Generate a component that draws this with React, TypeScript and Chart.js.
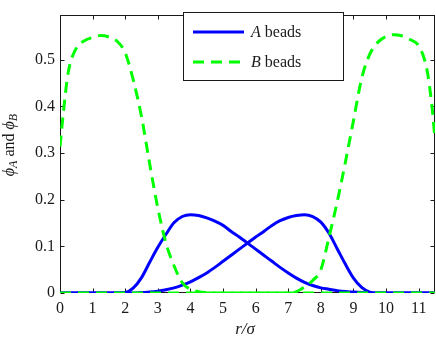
import { useEffect, useRef } from "react";
import { Chart, registerables } from "chart.js";

Chart.register(...registerables);

// radial position r/sigma
const R = [
  0, 0.1, 0.25, 0.5, 0.75, 1.0, 1.25, 1.5, 1.75, 2.0, 2.25, 2.5, 2.75, 3.0, 3.25, 3.5, 3.75,
  4.0, 4.25, 4.5, 4.75, 5.0, 5.25, 5.5, 5.75, 6.0, 6.25, 6.5, 6.75, 7.0, 7.25, 7.5, 7.75,
  8.0, 8.25, 8.5, 8.75, 9.0, 9.25, 9.5, 9.75, 10.0, 10.25, 10.5, 10.75, 11.0, 11.25, 11.4, 11.5,
];

const A_LEFT = [
  0, 0, 0, 0, 0, 0, 0, 0, 0, 0.001, 0.011, 0.033, 0.066, 0.098, 0.126, 0.151, 0.164,
  0.168, 0.166, 0.161, 0.154, 0.145, 0.132, 0.12, 0.107, 0.094, 0.081, 0.068, 0.055, 0.043, 0.032, 0.023, 0.016,
  0.011, 0.008, 0.005, 0.003, 0.002, 0.001, 0, 0, 0, 0, 0, 0, 0, 0, 0, 0,
];

const A_RIGHT = [
  0, 0, 0, 0, 0, 0, 0, 0, 0, 0, 0, 0.001, 0.002, 0.004, 0.007, 0.011, 0.017,
  0.024, 0.033, 0.043, 0.055, 0.068, 0.081, 0.094, 0.107, 0.12, 0.132, 0.145, 0.155, 0.162, 0.166, 0.168, 0.164,
  0.152, 0.128, 0.095, 0.062, 0.032, 0.012, 0.002, 0, 0, 0, 0, 0, 0, 0, 0, 0,
];

const B_LEFT = [
  0.314, 0.385, 0.472, 0.525, 0.541, 0.548, 0.552, 0.549, 0.54, 0.515, 0.456, 0.378, 0.277, 0.182, 0.107, 0.058, 0.022,
  0.008, 0.003, 0.001, 0, 0, 0, 0, 0, 0, 0, 0, 0, 0, 0, 0, 0,
  0, 0, 0, 0, 0, 0, 0, 0, 0, 0, 0, 0, 0, 0, 0, 0,
];

const B_RIGHT = [
  0, 0, 0, 0, 0, 0, 0, 0, 0, 0, 0, 0, 0, 0, 0, 0, 0,
  0, 0, 0, 0, 0, 0, 0, 0, 0, 0, 0, 0, 0, 0.003, 0.013, 0.027,
  0.05, 0.12, 0.195, 0.28, 0.37, 0.46, 0.512, 0.538, 0.55, 0.554, 0.551, 0.543, 0.53, 0.48, 0.405, 0.33,
];

const X_TICKS = [0, 1, 2, 3, 4, 5, 6, 7, 8, 9, 10, 11];
const Y_TICKS = [0, 0.1, 0.2, 0.3, 0.4, 0.5];
const X_MAX = 11.5;
const Y_MAX = 0.597;

const BLUE = "#0000ff";
const GREEN = "#00ff00";
const INK = "#1a1a1a";
const SERIF = "'Liberation Serif', 'DejaVu Serif', serif";

const pts = (ys: number[]) => R.map((r, i) => ({ x: r, y: ys[i] }));

const framePlugin = {
  id: "frame",
  beforeDatasetsDraw(chart: any) {
    const { ctx, chartArea, scales } = chart;
    const l = Math.round(chartArea.left) + 0.5;
    const r = Math.round(chartArea.right) - 0.5;
    const t = Math.round(chartArea.top) + 0.5;
    const b = Math.round(chartArea.bottom) - 0.5;
    ctx.save();
    ctx.strokeStyle = INK;
    ctx.lineWidth = 1;
    ctx.strokeRect(l, t, r - l, b - t);
    const tl = 4;
    ctx.beginPath();
    X_TICKS.forEach((v) => {
      const px = Math.round(scales.x.getPixelForValue(v)) + 0.5;
      ctx.moveTo(px, b);
      ctx.lineTo(px, b - tl);
      ctx.moveTo(px, t);
      ctx.lineTo(px, t + tl);
    });
    Y_TICKS.forEach((v) => {
      const py = Math.round(scales.y.getPixelForValue(v)) + 0.5;
      ctx.moveTo(l, py);
      ctx.lineTo(l + tl, py);
      ctx.moveTo(r, py);
      ctx.lineTo(r - tl, py);
    });
    ctx.stroke();
    ctx.restore();
  },
};

const titlePlugin = {
  id: "titles",
  afterDraw(chart: any) {
    const { ctx, chartArea } = chart;
    ctx.save();
    ctx.fillStyle = INK;
    ctx.textBaseline = "alphabetic";
    // y title: phi_A and phi_B
    const big = `italic 16px ${SERIF}`;
    const small = `italic 12px ${SERIF}`;
    const norm = `16px ${SERIF}`;
    const parts: [string, string, number][] = [
      ["ϕ", big, 0],
      ["A", small, 3],
      [" and ", norm, 0],
      ["ϕ", big, 0],
      ["B", small, 3],
    ];
    let total = 0;
    parts.forEach(([s, f]) => {
      ctx.font = f;
      total += ctx.measureText(s).width;
    });
    const cy = 145;
    ctx.translate(14, cy);
    ctx.rotate(-Math.PI / 2);
    let x = -total / 2;
    parts.forEach(([s, f, dy]) => {
      ctx.font = f;
      ctx.fillText(s, x, dy);
      x += ctx.measureText(s).width;
    });
    ctx.restore();

    // x title
    ctx.save();
    ctx.fillStyle = INK;
    ctx.font = `italic 17px ${SERIF}`;
    ctx.textAlign = "center";
    ctx.textBaseline = "alphabetic";
    ctx.fillText("r/σ", 245, 334);
    ctx.restore();
  },
};

const legendPlugin = {
  id: "customLegend",
  afterDatasetsDraw(chart: any) {
    const { ctx } = chart;
    ctx.save();
    ctx.fillStyle = "#ffffff";
    ctx.fillRect(183.5, 12.5, 160, 68);
    ctx.strokeStyle = INK;
    ctx.lineWidth = 1;
    ctx.strokeRect(183.5, 12.5, 160, 68);
    const rows = [
      { y: 32, color: BLUE, dash: [] as number[], letter: "A" },
      { y: 62, color: GREEN, dash: [11, 7], letter: "B" },
    ];
    rows.forEach((row) => {
      ctx.beginPath();
      ctx.strokeStyle = row.color;
      ctx.lineWidth = 3;
      ctx.setLineDash(row.dash);
      ctx.moveTo(193, row.y);
      ctx.lineTo(244, row.y);
      ctx.stroke();
      ctx.setLineDash([]);
      ctx.fillStyle = INK;
      ctx.textBaseline = "middle";
      ctx.font = `italic 16px ${SERIF}`;
      ctx.fillText(row.letter, 251, row.y + 1);
      const w = ctx.measureText(row.letter).width;
      ctx.font = `16px ${SERIF}`;
      ctx.fillText(" beads", 251 + w, row.y + 1);
    });
    ctx.restore();
  },
};

export default function App() {
  const ref = useRef<HTMLCanvasElement>(null);
  useEffect(() => {
    document.body.style.margin = "0";
    if (!ref.current) return;
    const line = (label: string, ys: number[], color: string, dash: number[]) => ({
      label,
      data: pts(ys),
      borderColor: color,
      backgroundColor: color,
      borderWidth: 3,
      borderDash: dash,
      pointRadius: 0,
      fill: false,
      cubicInterpolationMode: "monotone" as const,
    });
    const chart = new Chart(ref.current, {
      type: "line",
      data: {
        datasets: [
          line("B beads", B_LEFT, GREEN, [11, 7]),
          line("B beads", B_RIGHT, GREEN, [11, 7]),
          line("A beads", A_LEFT, BLUE, []),
          line("A beads", A_RIGHT, BLUE, []),
        ],
      },
      options: {
        animation: false,
        responsive: false,
        devicePixelRatio: 1,
        layout: { padding: { top: 2, right: 1, left: 0, bottom: 0 } },
        plugins: { legend: { display: false }, tooltip: { enabled: false } },
        scales: {
          x: {
            type: "linear",
            min: 0,
            max: X_MAX,
            afterFit: (s: any) => {
              s.height = 47;
            },
            afterBuildTicks: (s: any) => {
              s.ticks = X_TICKS.map((v) => ({ value: v }));
            },
            grid: { display: false, drawTicks: false },
            border: { display: false },
            ticks: {
              color: INK,
              font: { family: SERIF, size: 16 },
              padding: 6,
              maxRotation: 0,
              autoSkip: false,
              callback: (v: any) => String(v),
            },
          },
          y: {
            type: "linear",
            min: 0,
            max: Y_MAX,
            afterFit: (s: any) => {
              s.width = 60;
            },
            afterBuildTicks: (s: any) => {
              s.ticks = Y_TICKS.map((v) => ({ value: v }));
            },
            grid: { display: false, drawTicks: false },
            border: { display: false },
            ticks: {
              color: INK,
              font: { family: SERIF, size: 16 },
              padding: 5,
              autoSkip: false,
              callback: (v: any) => String(v),
            },
          },
        },
      },
      plugins: [framePlugin, legendPlugin, titlePlugin],
    });
    return () => chart.destroy();
  }, []);
  return (
    <div style={{ width: 436, height: 340 }}>
      <canvas ref={ref} width={436} height={340} style={{ display: "block" }} />
    </div>
  );
}
